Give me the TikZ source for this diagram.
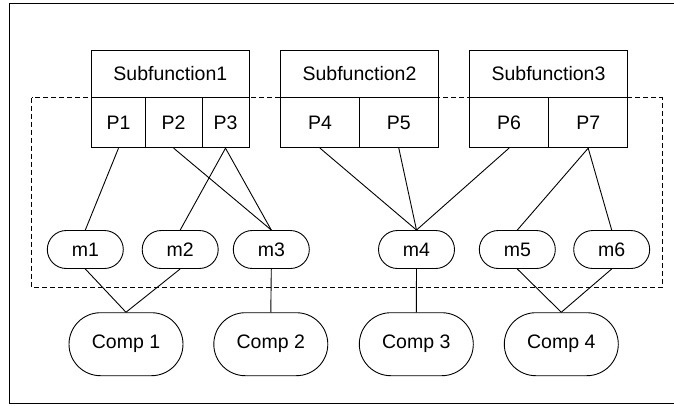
\documentclass[tikz,border=0pt]{standalone}
\usepackage{fontspec}
\setmainfont{Liberation Sans}
\usetikzlibrary{shapes.misc}

\begin{document}
\begin{tikzpicture}[x=1pt,y=-1pt,line width=.9pt,
	font=\fontsize{19.5}{23}\selectfont,
	cell/.style={draw,rectangle,inner sep=0pt,fill=white},
	subfn/.style={cell,minimum height=47.7pt},
	port/.style={cell,minimum height=50pt},
	modnode/.style={draw,rounded rectangle,inner sep=0pt,fill=white,
	                minimum width=76pt,minimum height=38pt},
	compnode/.style={draw,rounded rectangle,inner sep=0pt,fill=white,
	                 minimum width=114pt,minimum height=63pt}]

	\clip (0,0) rectangle (674,405);
	%outer frame
	\draw (9,3) rectangle (690,403);
	%dashed frame round ports and modules
	\draw[dash pattern=on 5pt off 3pt] (31.7,97.7) rectangle (662.3,287.3);

	%subfunctions
	\node[subfn,minimum width=157.3pt] (sf1) at (170.35,73.85) {Subfunction1};
	\node[subfn,minimum width=157.6pt] (sf2) at (359.5,73.85) {Subfunction2};
	\node[subfn,minimum width=158.4pt] (sf3) at (548.5,73.85) {Subfunction3};

	%ports
	\node[port,minimum width=53.6pt] (p1) at (118.5,122.7) {P1};
	\node[port,minimum width=56.7pt] (p2) at (173.65,122.7) {P2};
	\node[port,minimum width=47pt] (p3) at (225.5,122.7) {P3};
	\node[port,minimum width=78.6pt] (p4) at (320,122.7) {P4};
	\node[port,minimum width=79pt] (p5) at (398.8,122.7) {P5};
	\node[port,minimum width=79.4pt] (p6) at (509,122.7) {P6};
	\node[port,minimum width=79pt] (p7) at (588.2,122.7) {P7};

	%modules
	\node[modnode] (m1) at (85.3,249.5) {m1};
	\node[modnode] (m2) at (180.2,249.5) {m2};
	\node[modnode] (m3) at (271.3,249.5) {m3};
	\node[modnode] (m4) at (416.5,249.5) {m4};
	\node[modnode] (m5) at (517.3,249.5) {m5};
	\node[modnode] (m6) at (611.7,249.5) {m6};

	%components
	\node[compnode] (c1) at (126,344.2) {Comp 1};
	\node[compnode] (c2) at (270.8,344.2) {Comp 2};
	\node[compnode] (c3) at (416.3,344.2) {Comp 3};
	\node[compnode] (c4) at (561.3,344.2) {Comp 4};

	%ports to modules
	\draw (p1.south) -- (m1.north);
	\draw (p2.south) -- (m3.north);
	\draw (p3.south) -- (m2.north);
	\draw (p3.south) -- (m3.north);
	\draw (p4.south) -- (m4.north);
	\draw (p5.south) -- (m4.north);
	\draw (p6.south) -- (m4.north);
	\draw (p7.south) -- (m5.north);
	\draw (p7.south) -- (m6.north);

	%modules to components
	\draw (m1.south) -- (c1.north);
	\draw (m2.south) -- (c1.north);
	\draw (m3.south) -- (c2.north);
	\draw (m4.south) -- (c3.north);
	\draw (m5.south) -- (c4.north);
	\draw (m6.south) -- (c4.north);

\end{tikzpicture}
\end{document}
